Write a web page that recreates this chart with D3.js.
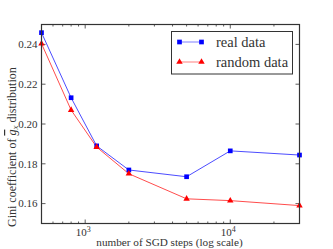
<!DOCTYPE html>
<html>
<head>
<meta charset="utf-8">
<script src="https://cdn.jsdelivr.net/npm/d3@7"></script>
<style>
  body { margin: 0; background: #fff; }
</style>
</head>
<body>
<div id="chart"></div>
<script>
let steps = [500, 800, 1200, 2000, 5000, 10000, 30000];
let realData = [0.2459, 0.2132, 0.1890, 0.1769, 0.1735, 0.1865, 0.1844];
let randomData = [0.2404, 0.2070, 0.1884, 0.1750, 0.1624, 0.1615, 0.1590];
let yTicks = [0.16, 0.18, 0.20, 0.22, 0.24];
let xMajor = [1000, 10000];
let seriesNames = ["real data", "random data"];

function ready(fn) {
  if (document.readyState != 'loading'){
    fn();
  } else {
    document.addEventListener('DOMContentLoaded', fn);
  }
}
ready(main);

function main() {
  let width = 333, height = 249;
  let margin = ({top: 24.5, right: 33.5, bottom: 25.5, left: 41.5});
  let font = "Liberation Serif";

  let x = d3.scaleLog()
    .domain([500, 30000])
    .range([margin.left, width - margin.right]);
  let y = d3.scaleLinear()
    .domain([0.15, 0.25])
    .range([height - margin.bottom, margin.top]);

  const svg = d3.select("#chart").append("svg")
    .attr("width", width)
    .attr("height", height);

  let x0 = margin.left, x1 = width - margin.right;
  let y0 = height - margin.bottom, y1 = margin.top;
  let ink = "#333";

  // minor ticks for log axis
  let xMinor = [];
  [100, 1000, 10000].forEach(dec => {
    for (let k = 2; k <= 9; k++) {
      let v = dec * k;
      if (v > 500 && v < 30000) xMinor.push(v);
    }
  });

  let ticks = svg.append("g").attr("stroke", ink).attr("stroke-width", 0.8);
  xMinor.forEach(v => {
    ticks.append("line").attr("x1", x(v)).attr("x2", x(v)).attr("y1", y0).attr("y2", y0 - 2);
    ticks.append("line").attr("x1", x(v)).attr("x2", x(v)).attr("y1", y1).attr("y2", y1 + 2);
  });
  xMajor.forEach(v => {
    ticks.append("line").attr("x1", x(v)).attr("x2", x(v)).attr("y1", y0).attr("y2", y0 - 4);
    ticks.append("line").attr("x1", x(v)).attr("x2", x(v)).attr("y1", y1).attr("y2", y1 + 4);
  });
  yTicks.forEach(v => {
    ticks.append("line").attr("x1", x0).attr("x2", x0 + 4).attr("y1", y(v)).attr("y2", y(v));
    ticks.append("line").attr("x1", x1).attr("x2", x1 - 4).attr("y1", y(v)).attr("y2", y(v));
  });

  // tick labels
  svg.append("g").selectAll("text")
    .data(yTicks)
    .join("text")
    .attr("x", x0 - 4)
    .attr("y", d => y(d))
    .attr("dy", "0.35em")
    .attr("text-anchor", "end")
    .attr("font-family", font)
    .attr("font-size", 11)
    .attr("fill", ink)
    .text(d => d.toFixed(2));

  let xl = svg.append("g").selectAll("text")
    .data(xMajor)
    .join("text")
    .attr("x", d => x(d) - 2)
    .attr("y", y0 + 12)
    .attr("text-anchor", "middle")
    .attr("font-family", font)
    .attr("font-size", 11)
    .attr("fill", ink);
  xl.append("tspan").text("10");
  xl.append("tspan")
    .attr("dy", -4)
    .attr("font-size", 8)
    .text(d => Math.round(Math.log10(d)));

  // axis labels
  svg.append("text")
    .attr("x", 169.5)
    .attr("y", height - 3)
    .attr("text-anchor", "middle")
    .attr("font-family", font)
    .attr("font-size", 11.2)
    .attr("fill", ink)
    .text("number of SGD steps (log scale)");

  let yl = svg.append("text")
    .attr("transform", "translate(16,227) rotate(-90)")
    .attr("text-anchor", "start")
    .attr("font-family", font)
    .attr("font-size", 12)
    .attr("fill", ink);
  yl.append("tspan").text("Gini coefficient of ");
  yl.append("tspan").attr("font-style", "italic").attr("text-decoration", "overline").text("g");
  yl.append("tspan").attr("font-style", "italic").attr("font-size", 9).attr("dy", 2).text("x");
  yl.append("tspan").attr("dy", -2).text(" distribution");

  let colors = ["#0000ff", "#ff0000"];
  let series = [realData, randomData];
  let line = d3.line()
    .x((d, i) => x(steps[i]))
    .y(d => y(d));

  let plot = svg.append("g");
  series.forEach((s, k) => {
    plot.append("path")
      .attr("d", line(s))
      .attr("fill", "none")
      .attr("stroke", colors[k])
      .attr("stroke-opacity", 0.7)
      .attr("stroke-width", 1);
  });

  let sym = [d3.symbolSquare, d3.symbolTriangle];
  let symSize = [22, 18];
  series.forEach((s, k) => {
    plot.append("g").selectAll("path")
      .data(s)
      .join("path")
      .attr("transform", (d, i) => `translate(${x(steps[i])},${y(d)})`)
      .attr("d", d3.symbol().type(sym[k]).size(symSize[k]))
      .attr("fill", colors[k]);
  });

  // frame
  svg.append("rect")
    .attr("x", x0).attr("y", y1)
    .attr("width", x1 - x0).attr("height", y0 - y1)
    .attr("fill", "none")
    .attr("stroke", ink)
    .attr("stroke-width", 1.2);

  // legend
  let lg = svg.append("g");
  lg.append("rect")
    .attr("x", 171.5).attr("y", 31.5)
    .attr("width", 121).attr("height", 42.5)
    .attr("fill", "#fff")
    .attr("stroke", ink)
    .attr("stroke-width", 1);
  seriesNames.forEach((name, k) => {
    let ly = 42 + k * 20;
    lg.append("line")
      .attr("x1", 179.5).attr("x2", 201.5)
      .attr("y1", ly).attr("y2", ly)
      .attr("stroke", colors[k])
      .attr("stroke-opacity", 0.5);
    [179.5, 201.5].forEach(px => {
      lg.append("path")
        .attr("transform", `translate(${px},${ly})`)
        .attr("d", d3.symbol().type(sym[k]).size(symSize[k]))
        .attr("fill", colors[k]);
    });
    lg.append("text")
      .attr("x", 216)
      .attr("y", ly)
      .attr("dy", "0.35em")
      .attr("font-family", font)
      .attr("font-size", 14.5)
      .attr("fill", ink)
      .text(name);
  });
}
</script>
</body>
</html>
